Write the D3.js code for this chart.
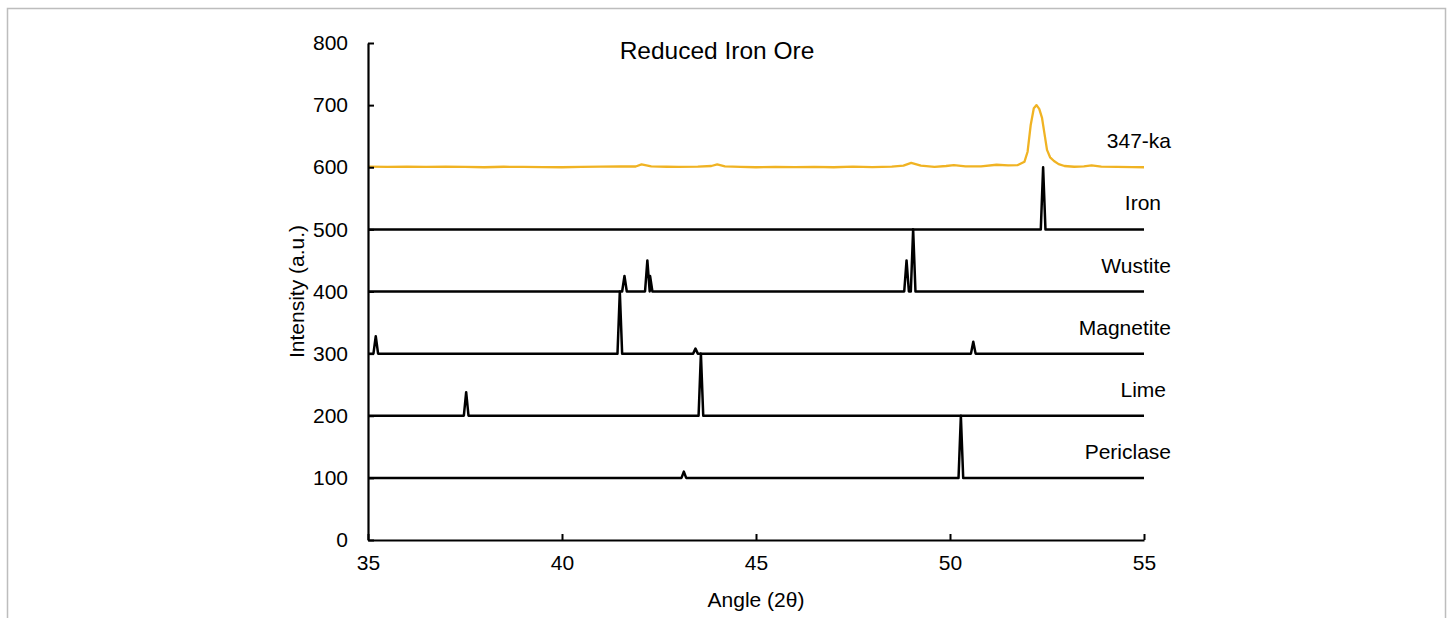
<!DOCTYPE html>
<html>
<head>
<meta charset="utf-8">
<script src="https://cdn.jsdelivr.net/npm/d3@7"></script>
<style>
  html, body { margin: 0; padding: 0; background: #fff; }
  svg text { font-family: "Liberation Sans", Arial, sans-serif; fill: #000; }
</style>
</head>
<body>
<div id="chart"></div>
<script>
"use strict";
// x ticks / y ticks
var angleTicks = [35, 40, 45, 50, 55];
var intensityTicks = [0, 100, 200, 300, 400, 500, 600, 700, 800];

// series names (top to bottom) and their offsets
var seriesNames = ["347-ka", "Iron", "Wustite", "Magnetite", "Lime", "Periclase"];
var seriesBase = [600, 500, 400, 300, 200, 100];

// measured pattern (angle, intensity)
var sample347ka = [
  [35, 601], [35.5, 600.5], [36, 601], [36.5, 600.5], [37, 601], [37.5, 600.5], [38, 600],
  [38.5, 600.8], [39, 600.5], [39.5, 600.2], [40, 600], [40.5, 600.5], [41, 601],
  [41.5, 601.5], [41.9, 601.2], [42.05, 604.5], [42.3, 601.5], [42.7, 600.8], [43, 600.5],
  [43.5, 601], [43.85, 602], [44.0, 604.5], [44.2, 601.5], [44.6, 600.5], [45, 600],
  [45.5, 600.5], [46, 600.3], [46.5, 600.5], [47, 600], [47.5, 601], [48, 600.2],
  [48.5, 601], [48.8, 602.5], [49.0, 607], [49.25, 602.5], [49.6, 600.5], [49.9, 602],
  [50.1, 603.5], [50.4, 601.5], [50.8, 601.5], [51.2, 604], [51.5, 603], [51.75, 603.5],
  [51.92, 609], [52.0, 625], [52.08, 668], [52.16, 695], [52.23, 700], [52.3, 694],
  [52.37, 680], [52.44, 652], [52.5, 628], [52.58, 616], [52.68, 610], [52.8, 605],
  [52.95, 602], [53.2, 600.8], [53.45, 601.5], [53.65, 603], [53.9, 601], [54.3, 600.5],
  [54.7, 600.2], [55, 600]
];

// reference stick patterns (angle, intensity)
var iron = [[35, 500], [52.34, 500], [52.4, 600], [52.46, 500], [55, 500]];
var wustite = [
  [35, 400], [41.55, 400], [41.61, 425], [41.67, 400],
  [42.14, 400], [42.2, 450], [42.26, 400], [42.27, 425], [42.33, 400],
  [48.82, 400], [48.88, 450], [48.94, 400], [48.99, 400], [49.05, 500], [49.11, 400],
  [55, 400]
];
var magnetite = [
  [35, 300], [35.14, 300], [35.2, 328], [35.26, 300],
  [41.43, 300], [41.49, 400], [41.55, 300],
  [43.38, 300], [43.44, 308], [43.5, 300],
  [50.54, 300], [50.6, 319], [50.66, 300],
  [55, 300]
];
var lime = [
  [35, 200], [37.47, 200], [37.53, 238], [37.59, 200],
  [43.52, 200], [43.58, 300], [43.64, 200],
  [55, 200]
];
var periclase = [
  [35, 100], [43.08, 100], [43.14, 110], [43.2, 100],
  [50.22, 100], [50.28, 200], [50.34, 100],
  [55, 100]
];

var seriesData = [sample347ka, iron, wustite, magnetite, lime, periclase];
var seriesColor = ["#F0B323", "#000", "#000", "#000", "#000", "#000"];
// small horizontal nudge of each right-hand label (px)
var labelDx = [0, -10, 0, 0, -5, 0];

var W = 1450, H = 618;
var margin = {left: 368, right: 306, top: 43, bottom: 78};

var svg = d3.select("#chart").append("svg")
  .attr("width", W).attr("height", H);

// outer frame
svg.append("rect")
  .attr("x", 7.5).attr("y", 8.5)
  .attr("width", 1438).attr("height", 640)
  .attr("fill", "none").attr("stroke", "#bdbdbd").attr("stroke-width", 1.5);

var x = d3.scaleLinear().domain([35, 55]).range([margin.left, W - margin.right]);
var y = d3.scaleLinear().domain([0, 800]).range([H - margin.bottom, margin.top]);

var line = d3.line()
  .x(function (d) { return x(d[0]); })
  .y(function (d) { return y(d[1]); });

// series
svg.append("g").selectAll("path")
  .data(seriesData)
  .join("path")
  .attr("d", line)
  .attr("fill", "none")
  .attr("stroke", function (d, i) { return seriesColor[i]; })
  .attr("stroke-width", function (d, i) { return i === 0 ? 2.3 : 2.5; })
  .attr("stroke-linejoin", "round");

// axes
var xAxis = svg.append("g")
  .attr("transform", "translate(0," + y(0) + ")")
  .call(d3.axisBottom(x).tickValues(angleTicks).tickSize(-6).tickPadding(15).tickSizeOuter(0));
var yAxis = svg.append("g")
  .attr("transform", "translate(" + x(35) + ",0)")
  .call(d3.axisLeft(y).tickValues(intensityTicks).tickSize(-6).tickPadding(20).tickSizeOuter(0));

[xAxis, yAxis].forEach(function (a) {
  a.select(".domain").attr("stroke", "#000").attr("stroke-width", 2.2);
  a.selectAll(".tick line").attr("stroke", "#000").attr("stroke-width", 2);
  a.selectAll(".tick text")
    .attr("font-family", "Liberation Sans, Arial, sans-serif")
    .attr("font-size", 21).attr("fill", "#000");
});
xAxis.selectAll(".tick text").attr("dy", "0.71em");

// series labels
svg.append("g").selectAll("text")
  .data(seriesNames)
  .join("text")
  .attr("x", function (d, i) { return x(55) + 27 + labelDx[i]; })
  .attr("y", function (d, i) { return y(seriesBase[i]) - 19; })
  .attr("text-anchor", "end")
  .attr("font-size", 21)
  .text(function (d) { return d; });

// titles
svg.append("text")
  .attr("x", 717).attr("y", 59)
  .attr("text-anchor", "middle")
  .attr("font-size", 24.5)
  .text("Reduced Iron Ore");

svg.append("text")
  .attr("x", (x(35) + x(55)) / 2).attr("y", 607)
  .attr("text-anchor", "middle")
  .attr("font-size", 21)
  .text("Angle (2θ)");

svg.append("text")
  .attr("transform", "translate(304," + y(400) + ") rotate(-90)")
  .attr("text-anchor", "middle")
  .attr("font-size", 21)
  .text("Intensity (a.u.)");
</script>
</body>
</html>
